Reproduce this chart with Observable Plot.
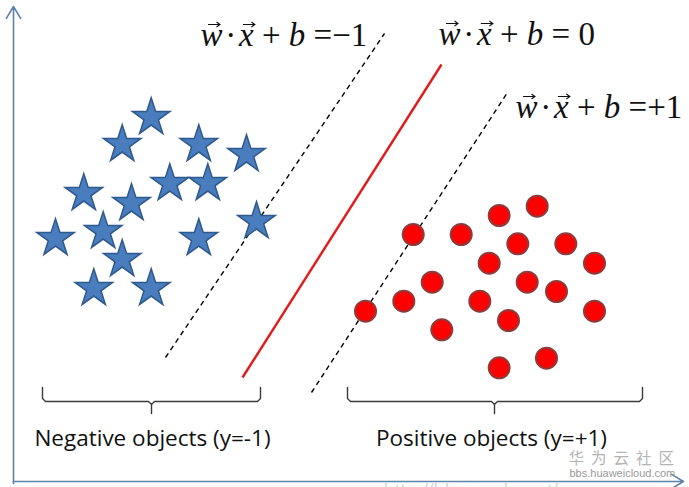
<!DOCTYPE html>
<html><head><meta charset="utf-8">
<script src="https://cdn.jsdelivr.net/npm/d3@7"></script>
<script src="https://cdn.jsdelivr.net/npm/@observablehq/plot@0.6"></script>
<style>html,body{margin:0;padding:0;background:#fff;overflow:hidden}</style>
</head><body><div id="chart"></div>
<script>
// Negative class (stars), pixel-space coordinates
const starX = [150.7, 121.7, 198.3, 246, 169.3, 207.3, 83.3, 131, 256, 102.7, 55, 198.3, 121.7, 93.3, 150.7];
const starY = [117, 144, 144, 154, 183, 183, 193, 203, 221, 231, 238, 238, 259, 288, 288];
// Positive class (circles)
const dotX = [412.7, 460.7, 498.7, 536.7, 517.3, 565.3, 488.7, 594, 431.7, 526.7, 556, 365, 403.3, 479.3, 594, 508, 441.3, 546, 498.7];
const dotY = [234, 234, 215, 205.7, 243.3, 243.3, 262.7, 262.7, 281.7, 281.7, 291, 310.7, 300.7, 300.7, 310.7, 320, 329.3, 357.7, 367.3];
// Hyperplanes w·x+b = -1, 0, +1
const planeName = ["minus", "zero", "plus"];
const planeX1 = [165, 242, 311];
const planeY1 = [357, 377, 392];
const planeX2 = [384, 441, 507];
const planeY2 = [33, 64, 92];
// Equation labels (U+20D7 marks a vector, U+200A hair space)
const eqText = ["w\u20D7\u200A·\u200Ax\u20D7 + b =\u22121", "w\u20D7\u200A·\u200Ax\u20D7 + b = 0", "w\u20D7\u200A·\u200Ax\u20D7 + b =+1"];
const eqX = [200, 438, 515];
const eqY = [45, 44, 117];
// Axes (arrows)
const axisX1 = [13, 13];
const axisY1 = [483, 481];
const axisX2 = [13, 683];
const axisY2 = [6, 481];
// Braces and class labels
const braceStart = [42, 347];
const braceEnd = [260, 642];
const braceMid = [151, 494];
const braceTop = 387, braceBar = 401, braceTip = 413;
const classLabel = ["Negative objects (y=-1)", "Positive objects (y=+1)"];
const classLabelX = [152, 491];
const classLabelY = [445, 445];
// Watermarks
const markText = ["华为云社区", "bbs.huaweicloud.com", "http://blog.csdn.net/"];
const markX = [568, 569, 383];
const markY = [463, 476.5, 497];
const markSize = [15.5, 11, 20];
const markFill = ["#b4b4b4", "#9a9a9a", "#d9d9d9"];

const stars = starX.map((x, i) => ({x, y: starY[i]}));
const dots = dotX.map((x, i) => ({x, y: dotY[i]}));
const planes = planeName.map((name, i) => ({name, x1: planeX1[i], y1: planeY1[i], x2: planeX2[i], y2: planeY2[i]}));
const eqs = eqText.map((t, i) => ({t, x: eqX[i], y: eqY[i]}));
const axes = axisX1.map((x1, i) => ({x1, y1: axisY1[i], x2: axisX2[i], y2: axisY2[i]}));
const braces = [];
braceStart.forEach((a, k) => {
  const b = braceEnd[k], m = braceMid[k];
  [[a, braceTop], [a, braceBar - 3], [a + 3, braceBar], [m - 3, braceBar], [m, braceBar + 3], [m, braceTip],
   [m, braceBar + 3], [m + 3, braceBar], [b - 3, braceBar], [b, braceBar - 3], [b, braceTop]]
    .forEach(([x, y]) => braces.push({k, x, y}));
});
const labels = classLabel.map((t, i) => ({t, x: classLabelX[i], y: classLabelY[i]}));
const marks = markText.map((t, i) => ({t, x: markX[i], y: markY[i]}));

const svg = Plot.plot({
  width: 689, height: 487, margin: 0,
  style: {background: "#fff", overflow: "hidden"},
  x: {domain: [0, 689], range: [0, 689], axis: null},
  y: {domain: [0, 487], range: [0, 487], axis: null},
  marks: [
    Plot.text(marks.slice(2), {x: "x", y: "y", text: "t", textAnchor: "start", lineAnchor: "bottom", fontSize: markSize[2], fontFamily: "Liberation Sans", fill: markFill[2]}),
    Plot.arrow(axes, {x1: "x1", y1: "y1", x2: "x2", y2: "y2", stroke: "#5e82ab", strokeWidth: 1.6, headLength: 13, headAngle: 62}),
    Plot.link(planes.filter(d => d.name !== "zero"), {x1: "x1", y1: "y1", x2: "x2", y2: "y2", stroke: "#000", strokeWidth: 1.4, strokeDasharray: "5,4"}),
    Plot.link(planes.filter(d => d.name === "zero"), {x1: "x1", y1: "y1", x2: "x2", y2: "y2", stroke: "#e01b1b", strokeWidth: 2.4}),
    Plot.dot(stars, {x: "x", y: "y", symbol: "star", r: 11.8, fill: "#4a7dbd", stroke: "#2f5a8e", strokeWidth: 1.5}),
    Plot.dot(dots, {x: "x", y: "y", r: 10.5, fill: "#fe0000", stroke: "#8e3b3b", strokeWidth: 2}),
    Plot.line(braces, {x: "x", y: "y", z: "k", stroke: "#3a3a3a", strokeWidth: 1.4, curve: "linear"}),
    Plot.text(labels, {x: "x", y: "y", text: "t", textAnchor: "middle", lineAnchor: "bottom", fontSize: 22.5, fontFamily: "Open Sans", fill: "#111"}),
    Plot.text(eqs, {x: "x", y: "y", text: "t", textAnchor: "start", lineAnchor: "bottom", fontSize: 33, fontFamily: "Liberation Serif", fill: "#111"}),
    Plot.text(marks.slice(0, 1), {x: "x", y: "y", text: "t", textAnchor: "start", lineAnchor: "bottom", fontSize: markSize[0], fontFamily: "Noto Sans CJK SC", fill: markFill[0]}),
    Plot.text(marks.slice(1, 2), {x: "x", y: "y", text: "t", textAnchor: "start", lineAnchor: "bottom", fontSize: markSize[1], fontFamily: "Liberation Sans", fill: markFill[1]})
  ]
});
document.getElementById("chart").append(svg);

const NS = "http://www.w3.org/2000/svg";
// letter spacing for the CJK watermark
svg.querySelectorAll("text").forEach(t => {
  if (t.textContent === markText[0]) t.setAttribute("letter-spacing", "7px");
});
// Typeset equations: italic variables, vector arrows over w and x
Array.from(svg.querySelectorAll("text")).filter(t => t.textContent.includes("\u20D7")).forEach(t => {
  const s = t.textContent;
  t.textContent = "";
  const vec = [];
  let n = 0;
  for (const ch of s) {
    if (ch === "\u20D7") { vec.push(n - 1); continue; }
    const ts = document.createElementNS(NS, "tspan");
    ts.textContent = ch;
    if (/[a-z]/.test(ch)) ts.setAttribute("font-style", "italic");
    t.appendChild(ts);
    n++;
  }
  vec.forEach(i => {
    const e = t.getExtentOfChar(i);
    const p = t.getStartPositionOfChar(i);
    const cx = e.x + e.width / 2 + 2.5;
    const yA = p.y - 21;
    const x0 = cx - 6, x1 = cx + 6;
    const path = document.createElementNS(NS, "path");
    path.setAttribute("d", `M${x0},${yA}H${x1}M${x1 - 3.5},${yA - 2.5}L${x1},${yA}L${x1 - 3.5},${yA + 2.5}`);
    path.setAttribute("fill", "none");
    path.setAttribute("stroke", "#111");
    path.setAttribute("stroke-width", "1.1");
    const tr = t.getAttribute("transform");
    if (tr) path.setAttribute("transform", tr);
    t.parentNode.appendChild(path);
  });
});
</script></body></html>
